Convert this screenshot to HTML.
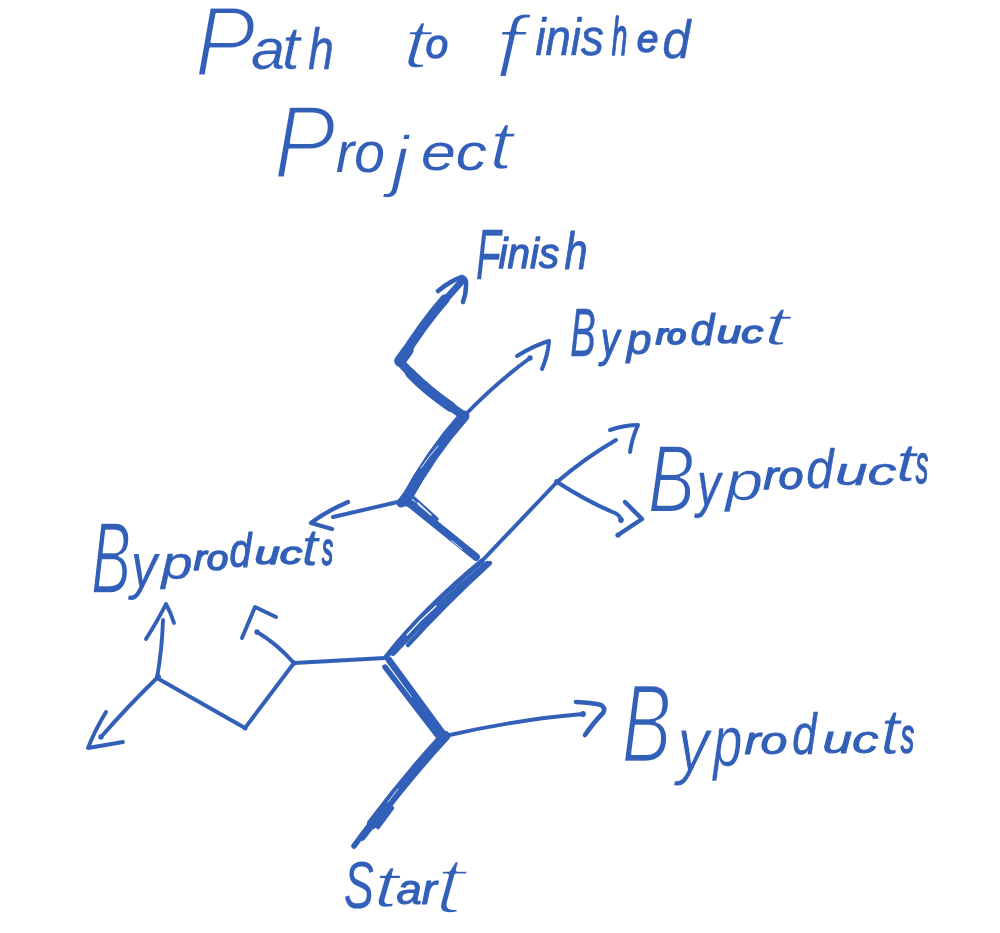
<!DOCTYPE html>
<html lang="en">
<head>
<meta charset="utf-8">
<title>Path to finished Project</title>
<style>
html,body{margin:0;padding:0;background:#fff;}
body{width:1000px;height:933px;overflow:hidden;}
svg{display:block;will-change:transform;}
.ink path{fill:none;stroke:#325fb8;stroke-linecap:round;stroke-linejoin:round;}
.ink path.gap{stroke:#fff;}
.ink circle{fill:#325fb8;}
.txt text{fill:#325fb8;font-family:'Liberation Sans', sans-serif;font-style:italic;stroke-linejoin:round;}
</style>
</head>
<body>
<svg width="1000" height="933" viewBox="0 0 1000 933" role="img" aria-label="Path to finished Project: Start, Byproducts, Byproduct, Finish">
<rect width="1000" height="933" fill="#fff"/>
<g class="txt">
<text aria-label="Path"><tspan x="194.5" y="75.5" font-size="100.3" textLength="61.0" lengthAdjust="spacingAndGlyphs" stroke="#fff" stroke-width="3.02">P</tspan><tspan x="250.9" y="68.5" font-size="56.8" textLength="34.2" lengthAdjust="spacingAndGlyphs" stroke="#fff" stroke-width="0.15">a</tspan><tspan x="281.8" y="68.6" font-size="60.4" textLength="18.1" lengthAdjust="spacingAndGlyphs" stroke="#fff" stroke-width="0.45">t</tspan><tspan x="308.3" y="68.7" font-size="57.6" textLength="25.5" lengthAdjust="spacingAndGlyphs" stroke="#325fb8" stroke-width="0.52">h</tspan></text>
<text aria-label="to"><tspan x="401.8" y="67.5" font-size="69.5" textLength="28.8" lengthAdjust="spacingAndGlyphs" stroke="#fff" stroke-width="2.49">t</tspan><tspan x="425.6" y="57.9" font-size="41.4" textLength="22.7" lengthAdjust="spacingAndGlyphs" stroke="#325fb8" stroke-width="1.31">o</tspan></text>
<text aria-label="finished"><tspan x="494.4" y="78.2" font-size="88.2" textLength="29.0" lengthAdjust="spacingAndGlyphs" stroke="#fff" stroke-width="3.19">f</tspan><tspan x="535.4" y="55.1" font-size="52.1" textLength="68.3" lengthAdjust="spacingAndGlyphs" stroke="#325fb8" stroke-width="0.73">inis</tspan><tspan x="611.7" y="55.3" font-size="53.9" textLength="15.6" lengthAdjust="spacingAndGlyphs" stroke="#325fb8" stroke-width="1.46">h</tspan><tspan x="636.7" y="51.9" font-size="39.3" textLength="21.6" lengthAdjust="spacingAndGlyphs" stroke="#325fb8" stroke-width="1.48">e</tspan><tspan x="662.2" y="58.3" font-size="54.5" textLength="28.2" lengthAdjust="spacingAndGlyphs" stroke="#325fb8" stroke-width="0.41">d</tspan></text>
<text aria-label="Project"><tspan x="273.4" y="177.6" font-size="103.5" textLength="62.2" lengthAdjust="spacingAndGlyphs" stroke="#fff" stroke-width="3.22">P</tspan><tspan x="336.0" y="172.4" font-size="58.2" textLength="48.9" lengthAdjust="spacingAndGlyphs" stroke="#325fb8" stroke-width="0.09">ro</tspan><tspan x="391.2" y="183.9" font-size="68.4" textLength="17.6" lengthAdjust="spacingAndGlyphs" stroke="#fff" stroke-width="1.35">j</tspan><tspan x="421.0" y="169.5" font-size="51.1" textLength="66.0" lengthAdjust="spacingAndGlyphs" stroke="#fff" stroke-width="0.00">ec</tspan><tspan x="489.2" y="169.1" font-size="68.2" textLength="23.6" lengthAdjust="spacingAndGlyphs" stroke="#fff" stroke-width="1.61">t</tspan></text>
<text aria-label="Finish"><tspan x="476.1" y="278.9" font-size="70.8" textLength="24.8" lengthAdjust="spacingAndGlyphs" stroke="#325fb8" stroke-width="0.30">F</tspan><tspan x="498.6" y="267.9" font-size="43.2" textLength="60.7" lengthAdjust="spacingAndGlyphs" stroke="#325fb8" stroke-width="1.27">inis</tspan><tspan x="564.5" y="268.5" font-size="50.9" textLength="23.1" lengthAdjust="spacingAndGlyphs" stroke="#325fb8" stroke-width="0.95">h</tspan></text>
<text aria-label="Byproduct"><tspan x="570.2" y="355.8" font-size="69.1" textLength="25.5" lengthAdjust="spacingAndGlyphs" stroke="#325fb8" stroke-width="0.46">B</tspan><tspan x="600.7" y="356.0" font-size="48.0" textLength="18.7" lengthAdjust="spacingAndGlyphs" stroke="#325fb8" stroke-width="1.23">y</tspan><tspan x="626.7" y="353.7" font-size="43.0" textLength="24.8" lengthAdjust="spacingAndGlyphs" stroke="#325fb8" stroke-width="1.09">p</tspan><tspan x="656.1" y="343.7" font-size="27.2" textLength="29.9" lengthAdjust="spacingAndGlyphs" stroke="#325fb8" stroke-width="2.14">ro</tspan><tspan x="690.6" y="345.0" font-size="44.0" textLength="23.7" lengthAdjust="spacingAndGlyphs" stroke="#325fb8" stroke-width="1.14">d</tspan><tspan x="716.7" y="342.9" font-size="32.0" textLength="46.5" lengthAdjust="spacingAndGlyphs" stroke="#325fb8" stroke-width="1.50">uc</tspan><tspan x="763.2" y="345.2" font-size="54.7" textLength="26.2" lengthAdjust="spacingAndGlyphs" stroke="#fff" stroke-width="1.56">t</tspan></text>
<text aria-label="Byproducts"><tspan x="648.1" y="511.9" font-size="95.8" textLength="46.9" lengthAdjust="spacingAndGlyphs" stroke="#fff" stroke-width="1.92">B</tspan><tspan x="696.9" y="505.2" font-size="60.7" textLength="23.6" lengthAdjust="spacingAndGlyphs" stroke="#325fb8" stroke-width="0.35">y</tspan><tspan x="725.5" y="500.1" font-size="56.4" textLength="37.7" lengthAdjust="spacingAndGlyphs" stroke="#fff" stroke-width="0.43">p</tspan><tspan x="763.6" y="489.0" font-size="37.9" textLength="39.8" lengthAdjust="spacingAndGlyphs" stroke="#325fb8" stroke-width="1.26">ro</tspan><tspan x="806.2" y="488.2" font-size="55.7" textLength="27.2" lengthAdjust="spacingAndGlyphs" stroke="#325fb8" stroke-width="0.45">d</tspan><tspan x="835.3" y="485.3" font-size="39.0" textLength="61.4" lengthAdjust="spacingAndGlyphs" stroke="#325fb8" stroke-width="0.62">uc</tspan><tspan x="895.8" y="480.7" font-size="53.2" textLength="20.0" lengthAdjust="spacingAndGlyphs" stroke="#fff" stroke-width="0.49">t</tspan><tspan x="915.7" y="482.7" font-size="55.8" textLength="12.5" lengthAdjust="spacingAndGlyphs" stroke="#325fb8" stroke-width="1.52">s</tspan></text>
<text aria-label="Byproducts"><tspan x="91.2" y="592.8" font-size="101.2" textLength="39.6" lengthAdjust="spacingAndGlyphs" stroke="#fff" stroke-width="1.61">B</tspan><tspan x="131.0" y="586.9" font-size="62.3" textLength="26.3" lengthAdjust="spacingAndGlyphs" stroke="#325fb8" stroke-width="0.06">y</tspan><tspan x="161.6" y="579.0" font-size="46.1" textLength="31.1" lengthAdjust="spacingAndGlyphs" stroke="#325fb8" stroke-width="0.47">p</tspan><tspan x="193.8" y="569.8" font-size="35.4" textLength="34.4" lengthAdjust="spacingAndGlyphs" stroke="#325fb8" stroke-width="1.62">ro</tspan><tspan x="229.6" y="566.9" font-size="47.5" textLength="21.8" lengthAdjust="spacingAndGlyphs" stroke="#325fb8" stroke-width="1.17">d</tspan><tspan x="254.7" y="564.0" font-size="32.0" textLength="47.6" lengthAdjust="spacingAndGlyphs" stroke="#325fb8" stroke-width="1.45">uc</tspan><tspan x="302.1" y="565.4" font-size="52.1" textLength="15.8" lengthAdjust="spacingAndGlyphs" stroke="#325fb8" stroke-width="0.22">t</tspan><tspan x="322.0" y="564.6" font-size="45.8" textLength="11.0" lengthAdjust="spacingAndGlyphs" stroke="#325fb8" stroke-width="2.00">s</tspan></text>
<text aria-label="Byproducts"><tspan x="621.7" y="762.3" font-size="111.4" textLength="49.6" lengthAdjust="spacingAndGlyphs" stroke="#fff" stroke-width="2.64">B</tspan><tspan x="677.2" y="770.2" font-size="75.1" textLength="32.0" lengthAdjust="spacingAndGlyphs" stroke="#fff" stroke-width="0.91">y</tspan><tspan x="713.2" y="765.7" font-size="72.1" textLength="29.0" lengthAdjust="spacingAndGlyphs" stroke="#fff" stroke-width="0.27">p</tspan><tspan x="744.5" y="754.1" font-size="38.2" textLength="42.9" lengthAdjust="spacingAndGlyphs" stroke="#325fb8" stroke-width="1.09">ro</tspan><tspan x="792.3" y="754.1" font-size="57.8" textLength="24.2" lengthAdjust="spacingAndGlyphs" stroke="#325fb8" stroke-width="0.62">d</tspan><tspan x="822.4" y="753.2" font-size="38.6" textLength="56.2" lengthAdjust="spacingAndGlyphs" stroke="#325fb8" stroke-width="0.86">uc</tspan><tspan x="880.6" y="753.7" font-size="64.6" textLength="19.3" lengthAdjust="spacingAndGlyphs" stroke="#fff" stroke-width="0.79">t</tspan><tspan x="900.8" y="752.7" font-size="50.1" textLength="13.4" lengthAdjust="spacingAndGlyphs" stroke="#325fb8" stroke-width="1.64">s</tspan></text>
<text aria-label="Start"><tspan x="344.1" y="908.2" font-size="67.5" textLength="29.8" lengthAdjust="spacingAndGlyphs" stroke="#325fb8" stroke-width="0.23">S</tspan><tspan x="373.2" y="907.2" font-size="61.0" textLength="25.4" lengthAdjust="spacingAndGlyphs" stroke="#fff" stroke-width="1.64">t</tspan><tspan x="396.5" y="904.0" font-size="41.8" textLength="40.4" lengthAdjust="spacingAndGlyphs" stroke="#325fb8" stroke-width="1.09">ar</tspan><tspan x="433.3" y="912.9" font-size="82.0" textLength="32.3" lengthAdjust="spacingAndGlyphs" stroke="#fff" stroke-width="3.50">t</tspan></text>
</g>
<g class="ink">
<path d="M354,846 Q398,786 445,736" stroke-width="5.5"/>
<path d="M372,824 Q408,776 445,736" stroke-width="10.5"/>
<path d="M362,837 Q400,787 443,739" stroke-width="7.5"/>
<path d="M378,827 L392,808" stroke-width="4.5"/>
<path class="gap" d="M388,802 Q393,795 398,789" stroke-width="0.8"/>
<path d="M444,735 L389,660" stroke-width="6.5"/>
<path d="M438,736 Q410,700 385,667" stroke-width="5.4"/>
<path d="M439,734 L414,701" stroke-width="9"/>
<path d="M386,657 Q424,609 482,561" stroke-width="5.2"/>
<path d="M393,653 Q434,608 487,564" stroke-width="6.0"/>
<path d="M408,645 Q446,603 490,563" stroke-width="4.4"/>
<path class="gap" d="M407,635 Q420,620 436,606" stroke-width="1.3"/>
<path d="M408,502 L476,557" stroke-width="7.8"/>
<path d="M414,498 L437,519" stroke-width="3.4"/>
<path d="M404,500 L414,506" stroke-width="8"/>
<path class="gap" d="M418,503 L431,515" stroke-width="1.3"/>
<path class="gap" d="M452,541 L462,549" stroke-width="0.9"/>
<path d="M405,501 Q431,453 464,416" stroke-width="11"/>
<path d="M401,503 L411,490" stroke-width="9"/>
<path class="gap" d="M421,468 Q429,456 438,446" stroke-width="0.9"/>
<path d="M464,416 Q424,388 401,363" stroke-width="8.5"/>
<path d="M451,407 Q426,390 410,373" stroke-width="10"/>
<path d="M400,361 L408,350" stroke-width="11.5"/>
<path d="M400,361 Q423,324 445,299" stroke-width="9.5"/>
<path d="M400,361 Q427,319 462,281" stroke-width="7"/>
<path d="M438,291 Q450,281 462,277 Q467,279 466,286 Q466,294 463,302" stroke-width="4.6"/>
<path d="M464,416 Q497,382 530,358" stroke-width="3.9"/>
<path d="M517,356 Q535,345 549,341 Q548,355 542,369" stroke-width="4.0"/>
<path d="M480,563 L557,482" stroke-width="3.9"/>
<path d="M557,482 Q585,458 616,440" stroke-width="4.0"/>
<path d="M610,430 Q625,425 638,425 Q632,438 630,452" stroke-width="4.0"/>
<path d="M557,482 Q590,503 615,513 Q621,516 621,521" stroke-width="4.0"/>
<path d="M625,502 L642,519 L618,535" stroke-width="4.4"/>
<path d="M402,501 L333,517" stroke-width="3.9"/>
<path d="M348,502 Q325,512 311,523 L332,529" stroke-width="4.3"/>
<path d="M385,658 L294,663" stroke-width="3.9"/>
<path d="M294,663 Q276,643 257,632" stroke-width="3.9"/>
<path d="M242,638 L255,607 L276,617" stroke-width="3.9"/>
<path d="M294,663 L245,728 L157,678" stroke-width="3.9"/>
<path d="M157,678 Q162,650 163,620" stroke-width="3.9"/>
<path d="M146,639 Q158,620 166,604 Q171,613 174,623" stroke-width="3.9"/>
<path d="M157,678 Q128,706 101,737" stroke-width="3.9"/>
<path d="M106,712 Q95,730 88,748 L123,742" stroke-width="3.9"/>
<path d="M445,736 Q520,719 583,714" stroke-width="3.9"/>
<path d="M576,702 Q594,703 601,705 Q606,708 603,713 Q594,722 585,735" stroke-width="4.6"/>
<circle cx="583" cy="714" r="2.9"/>
<circle cx="557" cy="482" r="3.0"/>
<circle cx="530" cy="358" r="2.7"/>
<circle cx="257" cy="632" r="2.7"/>
<circle cx="101" cy="737" r="2.7"/>
<circle cx="621" cy="520" r="2.8"/>
<circle cx="618" cy="535" r="2.6"/>
<circle cx="294" cy="663" r="2.6"/>
<circle cx="158" cy="677" r="3.0"/>
<circle cx="245" cy="728" r="2.5"/>
</g>
</svg>
</body>
</html>
